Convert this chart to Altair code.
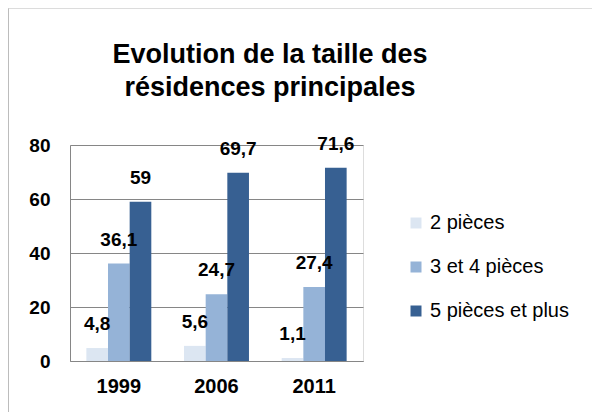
import altair as alt
import pandas as pd

years = ["1999", "2006", "2011"]
series = ["2 pièces", "3 et 4 pièces", "5 pièces et plus"]
v_2p = [4.8, 5.6, 1.1]
v_34p = [36.1, 24.7, 27.4]
v_5p = [59, 69.7, 71.6]
colors = ["#dce6f2", "#95b3d7", "#376092"]
y_ticks = [0, 20, 40, 60, 80]
title_lines = ["Evolution de la taille des", "résidences principales"]

rows = []
for s, vals in zip(series, [v_2p, v_34p, v_5p]):
    for yr, v in zip(years, vals):
        lab = (f"{v:g}").replace(".", ",")
        rows.append({"annee": yr, "serie": s, "valeur": v, "label": lab})
df = pd.DataFrame(rows)

FONT = "Liberation Sans"
GRAY = "#868686"

x_enc = alt.X("annee:N", sort=years, title=None,
              scale=alt.Scale(paddingInner=0.335, paddingOuter=0.1675),
              axis=alt.Axis(labelAngle=0, ticks=False, domainColor=GRAY, labelPadding=15,
                            labelFont=FONT, labelFontSize=20, labelFontWeight="bold",
                            labelColor="black", grid=False))
y_enc = alt.Y("valeur:Q", title=None, scale=alt.Scale(domain=[0, 80], nice=False),
              axis=alt.Axis(values=y_ticks, ticks=False, domainColor=GRAY, gridColor=GRAY,
                            labelPadding=20, labelFont=FONT, labelFontSize=19,
                            labelFontWeight="bold", labelColor="black"))
xo = alt.XOffset("serie:N", sort=series, scale=alt.Scale(paddingInner=0, paddingOuter=0))

bars = alt.Chart(df).mark_bar().encode(
    x=x_enc, y=y_enc, xOffset=xo,
    color=alt.Color("serie:N", sort=series, scale=alt.Scale(domain=series, range=colors),
                    legend=alt.Legend(title=None, orient="none", legendX=336, legendY=68,
                                      symbolType="square", symbolSize=121, symbolStrokeWidth=0,
                                      labelFont=FONT, labelFontSize=20, labelColor="black",
                                      rowPadding=24, labelOffset=4)),
)

labels = alt.Chart(df).mark_text(font=FONT, fontSize=19, fontWeight="bold", color="black",
                                 baseline="middle", dy=-24).encode(
    x=x_enc, y=y_enc, xOffset=xo, text="label:N")

one = pd.DataFrame({"k": [0]})
title1 = alt.Chart(one).mark_text(font=FONT, fontSize=27, fontWeight="bold", color="black",
                                  align="center", baseline="alphabetic", text=title_lines[0]).encode(
    x=alt.value(200), y=alt.value(-82))
title2 = alt.Chart(one).mark_text(font=FONT, fontSize=27, fontWeight="bold", color="black",
                                  align="center", baseline="alphabetic", text=title_lines[1]).encode(
    x=alt.value(200), y=alt.value(-49))

border_left = alt.Chart(one).mark_rule(color="#a6a6a6", strokeWidth=1.5).encode(
    x=alt.value(-62), y=alt.value(-137), y2=alt.value(269))
border_top = alt.Chart(one).mark_rule(color="#d0d0d0", strokeWidth=1.5).encode(
    x=alt.value(-62), x2=alt.value(522), y=alt.value(-137))

chart = alt.layer(border_left, border_top, bars, labels, title1, title2).properties(
    width=293, height=216,
    autosize=alt.AutoSizeParams(type="none"),
    padding={"left": 62, "top": 137, "right": 229, "bottom": 51},
).configure_view(stroke=None).configure(background="white")

chart.save("out.html", embed_options={"renderer": "svg", "actions": False})
